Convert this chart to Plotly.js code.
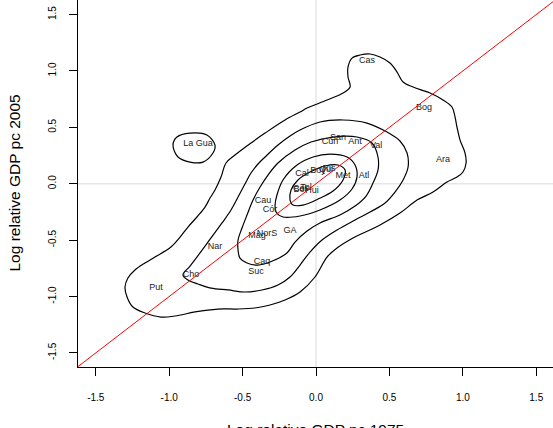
<!DOCTYPE html>
<html>
<head>
<meta charset="utf-8">
<script src="https://cdn.plot.ly/plotly-3.0.1.min.js"></script>
<style>html,body{margin:0;padding:0;background:#fff;}#chart{width:553px;height:428px;}</style>
</head>
<body>
<div id="chart"></div>
<script>
// Region labels and their positions (log relative GDP pc 1975, 2005)
var regions = ["Cas","Bog","Ara","Val","Ant","Cun","San","Met","Atl","Ris","Qui","Boy","Cal",
  "Bol","Ces","Tol","Hui","Cau","Cór","Mag","NorS","GA","Caq","Suc","Nar","Cho","Put","La Gua"];
var gdp1975 = [0.347,0.736,0.865,0.409,0.266,0.095,0.150,0.184,0.327,0.089,0.068,0.014,-0.095,
  -0.109,-0.102,-0.068,-0.027,-0.361,-0.313,-0.402,-0.334,-0.177,-0.368,-0.409,-0.688,-0.852,-1.090,-0.804];
var gdp2005 = [1.088,0.671,0.210,0.334,0.370,0.370,0.405,0.068,0.068,0.130,0.121,0.113,0.086,
  -0.056,-0.047,-0.038,-0.065,-0.153,-0.233,-0.464,-0.446,-0.419,-0.694,-0.783,-0.561,-0.809,-0.925,0.352];

// Density contour lines, outermost to innermost
var c5x = [-0.061,0.075,0.184,0.232,0.218,0.218,0.245,0.300,0.368,0.436,0.504,0.552,0.593,0.661,0.777,0.865,0.926,0.947,0.960,0.981,1.015,1.022,1.001,0.960,0.892,0.797,0.688,0.572,0.436,0.252,0.143,0.075,-0.007,-0.109,-0.211,-0.313,-0.416,-0.538,-0.668,-0.824,-0.960,-1.056,-1.165,-1.247,-1.287,-1.301,-1.281,-1.233,-1.165,-1.097,-0.988,-0.926,-0.872,-0.811,-0.756,-0.722,-0.688,-0.647,-0.613,-0.552,-0.443,-0.347,-0.211,-0.109,-0.061];
var c5y = [0.671,0.742,0.804,0.857,0.946,1.035,1.114,1.141,1.150,1.123,1.070,0.990,0.902,0.857,0.804,0.742,0.680,0.591,0.503,0.387,0.272,0.184,0.104,0.059,0.015,-0.074,-0.145,-0.260,-0.366,-0.481,-0.570,-0.650,-0.827,-0.960,-1.031,-1.075,-1.102,-1.111,-1.111,-1.137,-1.173,-1.182,-1.146,-1.093,-1.004,-0.916,-0.836,-0.765,-0.703,-0.650,-0.561,-0.473,-0.384,-0.295,-0.207,-0.127,-0.056,0.059,0.184,0.254,0.361,0.449,0.565,0.636,0.671];
var c4x = [-0.109,0.027,0.184,0.347,0.484,0.572,0.620,0.627,0.593,0.538,0.470,0.368,0.266,0.143,0.041,-0.041,-0.109,-0.177,-0.259,-0.368,-0.484,-0.599,-0.715,-0.804,-0.872,-0.906,-0.858,-0.790,-0.715,-0.640,-0.579,-0.531,-0.484,-0.443,-0.395,-0.347,-0.259,-0.177,-0.109];
var c4y = [0.476,0.547,0.565,0.538,0.458,0.379,0.272,0.148,0.033,-0.074,-0.171,-0.251,-0.322,-0.410,-0.499,-0.606,-0.721,-0.827,-0.898,-0.942,-0.960,-0.942,-0.925,-0.889,-0.854,-0.809,-0.730,-0.614,-0.481,-0.348,-0.233,-0.118,-0.003,0.095,0.175,0.237,0.343,0.423,0.476];
var c3x = [-0.034,0.116,0.279,0.381,0.422,0.422,0.388,0.341,0.266,0.163,0.027,-0.061,-0.143,-0.198,-0.313,-0.395,-0.470,-0.518,-0.531,-0.531,-0.504,-0.470,-0.429,-0.381,-0.327,-0.259,-0.143,-0.034];
var c3y = [0.370,0.414,0.414,0.361,0.237,0.121,0.006,-0.109,-0.198,-0.277,-0.348,-0.419,-0.517,-0.614,-0.694,-0.721,-0.703,-0.659,-0.588,-0.499,-0.393,-0.277,-0.145,-0.029,0.077,0.184,0.299,0.370];
var c2x = [-0.279,-0.266,-0.225,-0.129,-0.020,0.095,0.211,0.266,0.279,0.245,0.163,0.027,-0.109,-0.225,-0.272,-0.279];
var c2y = [-0.189,-0.100,0.033,0.166,0.237,0.263,0.237,0.166,0.059,-0.047,-0.145,-0.233,-0.286,-0.295,-0.251,-0.189];
var c1x = [-0.177,-0.170,-0.123,-0.041,0.061,0.150,0.198,0.184,0.116,0.014,-0.089,-0.157,-0.177];
var c1y = [-0.145,-0.056,0.033,0.104,0.157,0.166,0.121,0.033,-0.065,-0.136,-0.189,-0.189,-0.145];
var islandX = [-0.974,-0.947,-0.858,-0.743,-0.688,-0.702,-0.770,-0.858,-0.940,-0.974];
var islandY = [0.343,0.414,0.449,0.432,0.343,0.272,0.192,0.192,0.237,0.343];

// 45-degree reference line y = x (slope 1, intercept 0)
var ablineSlope = 1, ablineIntercept = 0;

var tickVals = [-1.5,-1.0,-0.5,0.0,0.5,1.0,1.5];
var tickText = ["-1.5","-1.0","-0.5","0.0","0.5","1.0","1.5"];

var xRange = [-1.621, 1.614];
var yRange = [-1.625, 1.629];

var font = "Liberation Sans, Arial, Helvetica, sans-serif";

function contour(x, y) {
  return {x: x, y: y, type: "scatter", mode: "lines", hoverinfo: "skip",
    line: {color: "#000", width: 1.2, shape: "spline", smoothing: 1}};
}
var ablX = [xRange[0] - 0.2, xRange[1] + 0.2];
var ablY = ablX.map(function (v) { return ablineIntercept + ablineSlope * v; });

var data = [
  contour(c5x, c5y), contour(c4x, c4y), contour(c3x, c3y),
  contour(c2x, c2y), contour(c1x, c1y), contour(islandX, islandY),
  {x: gdp1975, y: gdp2005, text: regions, type: "scatter", mode: "text",
   textposition: "middle center", cliponaxis: false,
   textfont: {family: font, size: 9, color: "#222"}, hoverinfo: "text"},
  {x: ablX, y: ablY, type: "scatter", mode: "lines", line: {color: "#ff0000", width: 1}, hoverinfo: "skip"}
];

var axisCommon = {
  showgrid: false, zeroline: false, showline: true, linecolor: "#000", linewidth: 1,
  ticks: "outside", ticklen: 8, tickcolor: "#000", tickwidth: 1,
  tickmode: "array", tickvals: tickVals, ticktext: tickText,
  tickfont: {family: font, size: 10, color: "#000"}
};

var layout = {
  width: 553, height: 428,
  margin: {l: 78, r: 0, t: 0, b: 61},
  showlegend: false,
  paper_bgcolor: "#fff", plot_bgcolor: "#fff",
  xaxis: Object.assign({}, axisCommon, {range: xRange, ticklabelstandoff: 13}),
  yaxis: Object.assign({}, axisCommon, {range: yRange, tickangle: -90, ticklabelstandoff: 9}),
  shapes: [
    {type: "line", xref: "x", yref: "paper", x0: 0, x1: 0, y0: 0, y1: 1, layer: "below",
     line: {color: "#e6e6e6", width: 1.5}},
    {type: "line", xref: "paper", yref: "y", x0: 0, x1: 1, y0: 0, y1: 0, layer: "below",
     line: {color: "#e6e6e6", width: 1.5}}
  ],
  annotations: [
    {text: "Log relative GDP pc 1975", xref: "paper", yref: "paper", x: 0.5, y: -0.169,
     xanchor: "center", yanchor: "middle", showarrow: false, font: {family: font, size: 15.5, color: "#000"}},
    {text: "Log relative GDP pc 2005", xref: "paper", yref: "paper", x: -0.1347, y: 0.5,
     xanchor: "center", yanchor: "middle", textangle: -90, showarrow: false,
     font: {family: font, size: 15.5, color: "#000"}}
  ]
};

Plotly.newPlot("chart", data, layout, {staticPlot: true, displayModeBar: false});
</script>
</body>
</html>
